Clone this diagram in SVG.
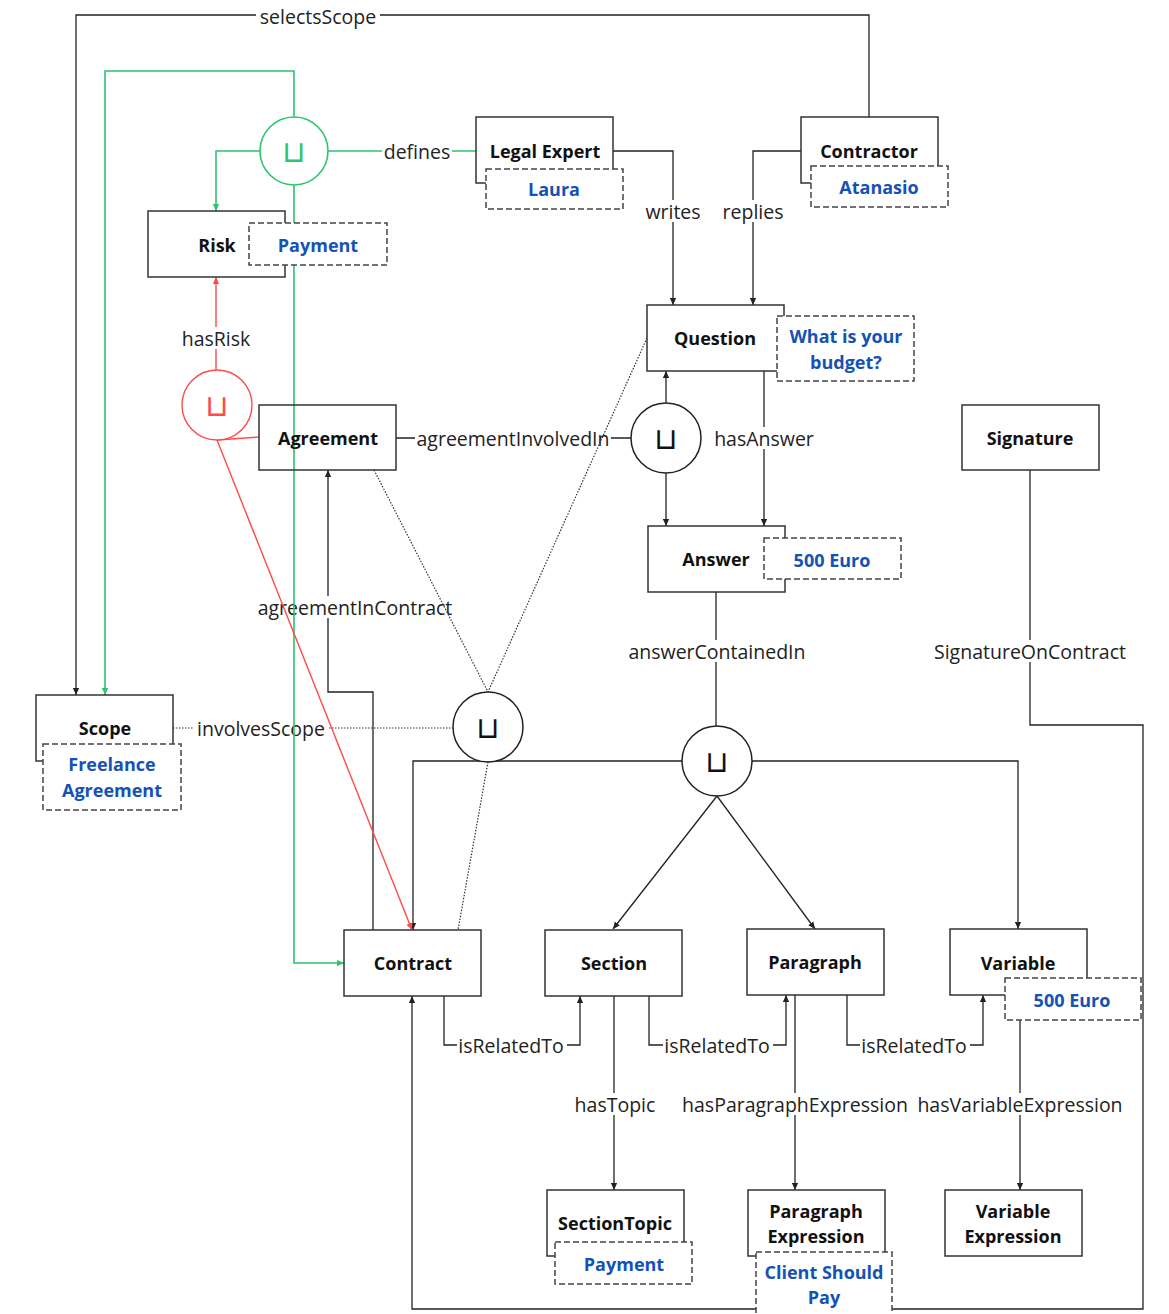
<svg xmlns="http://www.w3.org/2000/svg" width="1169" height="1314" viewBox="0 0 1169 1314">
<style>
.box{fill:#fff;stroke:#333;stroke-width:1.5}
.inst{fill:#fff;stroke:#444;stroke-width:1.5;stroke-dasharray:6 3}
.nt{font-family:"Open Sans","Liberation Sans",sans-serif;font-size:18px;font-weight:700;fill:#111;text-anchor:middle;dominant-baseline:central}
.it{font-family:"Open Sans","Liberation Sans",sans-serif;font-size:18px;font-weight:700;fill:#1452b5;text-anchor:middle;dominant-baseline:central}
.ln{fill:none;stroke:#222;stroke-width:1.3}
.dot{fill:none;stroke:#333;stroke-width:1.2;stroke-dasharray:1.5 1.5}
.gr{fill:none;stroke:#2bc46f;stroke-width:1.6}
.rd{fill:none;stroke:#ff4a4a;stroke-width:1.4}
.lb{font-family:"Open Sans","Liberation Sans",sans-serif;font-size:19.5px;fill:#222;text-anchor:middle;dominant-baseline:central}
.bg{fill:#fff}
.uc{fill:#fff;stroke:#222;stroke-width:1.5}
.us{font-family:"DejaVu Sans",sans-serif;font-size:30px;text-anchor:middle;dominant-baseline:central}
</style>
<defs>
<marker id="ab" viewBox="0 0 10 10" refX="10" refY="5" markerWidth="7" markerHeight="7" markerUnits="userSpaceOnUse" orient="auto"><path d="M0,0.5 L10,5 L0,9.5 z" fill="#222"/></marker>
<marker id="ag" viewBox="0 0 10 10" refX="10" refY="5" markerWidth="7" markerHeight="7" markerUnits="userSpaceOnUse" orient="auto"><path d="M0,0.5 L10,5 L0,9.5 z" fill="#2bc46f"/></marker>
<marker id="ar" viewBox="0 0 10 10" refX="10" refY="5" markerWidth="7" markerHeight="7" markerUnits="userSpaceOnUse" orient="auto"><path d="M0,0.5 L10,5 L0,9.5 z" fill="#ff4a4a"/></marker>
</defs>
<rect width="1169" height="1314" fill="#fff"/>
<g id="connectors">
<path class="ln" d="M869,117 V15 H76 V695" marker-end="url(#ab)"/>
<path class="ln" d="M613,151 H673 V305" marker-end="url(#ab)"/>
<path class="ln" d="M801,151 H753 V305" marker-end="url(#ab)"/>
<path class="ln" d="M396,438 H631"/>
<path class="ln" d="M666,403 V371" marker-end="url(#ab)"/>
<path class="ln" d="M666,473 V526" marker-end="url(#ab)"/>
<path class="ln" d="M764,371 V526" marker-end="url(#ab)"/>
<path class="ln" d="M373,930 V692 H328 V470" marker-end="url(#ab)"/>
<path class="ln" d="M716,592 V726"/>
<path class="ln" d="M682,761 H413 V930" marker-end="url(#ab)"/>
<path class="ln" d="M752,761 H1018 V929" marker-end="url(#ab)"/>
<path class="ln" d="M717,796 L613,929" marker-end="url(#ab)"/>
<path class="ln" d="M717,796 L815,929" marker-end="url(#ab)"/>
<path class="ln" d="M1030,470 V725 H1143 V1309 H412 V996" marker-end="url(#ab)"/>
<path class="ln" d="M444,996 V1045 H580 V996" marker-end="url(#ab)"/>
<path class="ln" d="M649,996 V1045 H786 V995" marker-end="url(#ab)"/>
<path class="ln" d="M847,995 V1045 H983 V995" marker-end="url(#ab)"/>
<path class="ln" d="M614,996 V1190" marker-end="url(#ab)"/>
<path class="ln" d="M795,995 V1190" marker-end="url(#ab)"/>
<path class="ln" d="M1020,1020 V1190" marker-end="url(#ab)"/>
<path class="dot" d="M173,728 H453"/>
<rect class="bg" x="256" y="5" width="124" height="22"/><text class="lb" x="318" y="16">selectsScope</text>
<rect class="bg" x="644" y="200" width="60" height="22"/><text class="lb" x="673" y="211">writes</text>
<rect class="bg" x="721" y="200" width="65" height="22"/><text class="lb" x="753" y="211">replies</text>
<rect class="bg" x="415" y="427" width="196" height="22"/><text class="lb" x="513" y="438">agreementInvolvedIn</text>
<rect class="bg" x="713" y="427" width="102" height="22"/><text class="lb" x="764" y="438">hasAnswer</text>
<rect class="bg" x="256" y="596" width="198" height="22"/><text class="lb" x="355" y="607">agreementInContract</text>
<rect class="bg" x="627" y="640" width="180" height="22"/><text class="lb" x="717" y="651">answerContainedIn</text>
<rect class="bg" x="932" y="640" width="196" height="22"/><text class="lb" x="1030" y="651">SignatureOnContract</text>
<rect class="bg" x="194" y="717" width="135" height="22"/><text class="lb" x="261" y="728">involvesScope</text>
<rect class="bg" x="457" y="1034" width="110" height="22"/><text class="lb" x="511" y="1045">isRelatedTo</text>
<rect class="bg" x="663" y="1034" width="110" height="22"/><text class="lb" x="717" y="1045">isRelatedTo</text>
<rect class="bg" x="860" y="1034" width="110" height="22"/><text class="lb" x="914" y="1045">isRelatedTo</text>
<rect class="bg" x="573" y="1093" width="84" height="22"/><text class="lb" x="615" y="1104">hasTopic</text>
<rect class="bg" x="683" y="1093" width="225" height="22"/><text class="lb" x="795" y="1104">hasParagraphExpression</text>
<rect class="bg" x="917" y="1093" width="206" height="22"/><text class="lb" x="1020" y="1104">hasVariableExpression</text>
<path class="dot" d="M374,470 L488,692"/>
<path class="dot" d="M647,338 L488,692"/>
<path class="dot" d="M488,762 L458,930"/>
<path class="gr" d="M294,117 V71 H105 V695" marker-end="url(#ag)"/>
<path class="gr" d="M260,151 H216 V211" marker-end="url(#ag)"/>
<path class="gr" d="M328,151 H476"/>
<path class="gr" d="M294,185 V223 M294,265 V963 H344" marker-end="url(#ag)"/>
<path class="rd" d="M216,370 V277" marker-end="url(#ar)"/>
<path class="rd" d="M217,440 L259,437"/>
<path class="rd" d="M217,440 L412,930" marker-end="url(#ar)"/>
<rect class="bg" x="382" y="140" width="70" height="22"/><text class="lb" x="417" y="151">defines</text>
<rect class="bg" x="181" y="327" width="71" height="22"/><text class="lb" x="216" y="338">hasRisk</text>
</g>
<g id="legal-expert"><rect class="box" x="476" y="117" width="137" height="66"/><text class="nt" x="545" y="151">Legal Expert</text><rect class="inst" x="486" y="169" width="137" height="40"/><text class="it" x="554" y="189">Laura</text></g>
<g id="contractor"><rect class="box" x="801" y="117" width="137" height="66"/><text class="nt" x="869" y="151">Contractor</text><rect class="inst" x="811" y="166" width="137" height="41"/><text class="it" x="879" y="187">Atanasio</text></g>
<g id="risk"><rect class="box" x="148" y="211" width="137" height="66"/><text class="nt" x="217" y="245">Risk</text><rect class="inst" x="249" y="223" width="138" height="42"/><text class="it" x="318" y="245">Payment</text></g>
<g id="question"><rect class="box" x="647" y="305" width="137" height="66"/><text class="nt" x="715" y="338">Question</text><rect class="inst" x="777" y="316" width="137" height="65"/><text class="it" x="846" y="336">What is your</text><text class="it" x="846" y="362">budget?</text></g>
<g id="agreement"><rect class="box" x="259" y="405" width="137" height="65" style="fill:none"/><text class="nt" x="328" y="438">Agreement</text></g>
<g id="signature"><rect class="box" x="962" y="405" width="137" height="65"/><text class="nt" x="1030" y="438">Signature</text></g>
<g id="answer"><rect class="box" x="648" y="526" width="137" height="66"/><text class="nt" x="716" y="559">Answer</text><rect class="inst" x="764" y="538" width="137" height="41"/><text class="it" x="832" y="560">500 Euro</text></g>
<g id="scope"><rect class="box" x="36" y="695" width="137" height="66"/><text class="nt" x="105" y="728">Scope</text><rect class="inst" x="43" y="744" width="138" height="66"/><text class="it" x="112" y="764">Freelance</text><text class="it" x="112" y="790">Agreement</text></g>
<g id="contract"><rect class="box" x="344" y="930" width="137" height="66"/><text class="nt" x="413" y="963">Contract</text></g>
<g id="section"><rect class="box" x="545" y="930" width="137" height="66"/><text class="nt" x="614" y="963">Section</text></g>
<g id="paragraph"><rect class="box" x="747" y="929" width="137" height="66"/><text class="nt" x="815" y="962">Paragraph</text></g>
<g id="variable"><rect class="box" x="950" y="929" width="137" height="66"/><text class="nt" x="1018" y="963">Variable</text><rect class="inst" x="1005" y="978" width="136" height="42"/><text class="it" x="1072" y="1000">500 Euro</text></g>
<g id="section-topic"><rect class="box" x="547" y="1190" width="137" height="66"/><text class="nt" x="615" y="1223">SectionTopic</text><rect class="inst" x="555" y="1242" width="137" height="42"/><text class="it" x="624" y="1264">Payment</text></g>
<g id="paragraph-expression"><rect class="box" x="748" y="1190" width="137" height="66"/><text class="nt" x="816" y="1211">Paragraph</text><text class="nt" x="816" y="1236">Expression</text><rect class="inst" x="756" y="1252" width="136" height="70"/><text class="it" x="824" y="1272">Client Should</text><text class="it" x="824" y="1297">Pay</text></g>
<g id="variable-expression"><rect class="box" x="945" y="1190" width="137" height="66"/><text class="nt" x="1013" y="1211">Variable</text><text class="nt" x="1013" y="1236">Expression</text></g>
<g id="union-defines"><circle cx="294" cy="151" r="34" fill="#fff" stroke="#2bc46f" stroke-width="1.6"/><text class="us" x="294" y="151" fill="#2bc46f">⊔</text></g>
<g id="union-risk"><circle cx="217" cy="405" r="35" fill="#fff" stroke="#ff4a4a" stroke-width="1.4"/><text class="us" x="217" y="405" fill="#ff4a4a">⊔</text></g>
<g id="union-question"><circle class="uc" cx="666" cy="438" r="35"/><text class="us" x="666" y="438" fill="#111">⊔</text></g>
<g id="union-scope"><circle class="uc" cx="488" cy="727" r="35"/><text class="us" x="488" y="727" fill="#111">⊔</text></g>
<g id="union-answer"><circle class="uc" cx="717" cy="761" r="35"/><text class="us" x="717" y="761" fill="#111">⊔</text></g>
</svg>
